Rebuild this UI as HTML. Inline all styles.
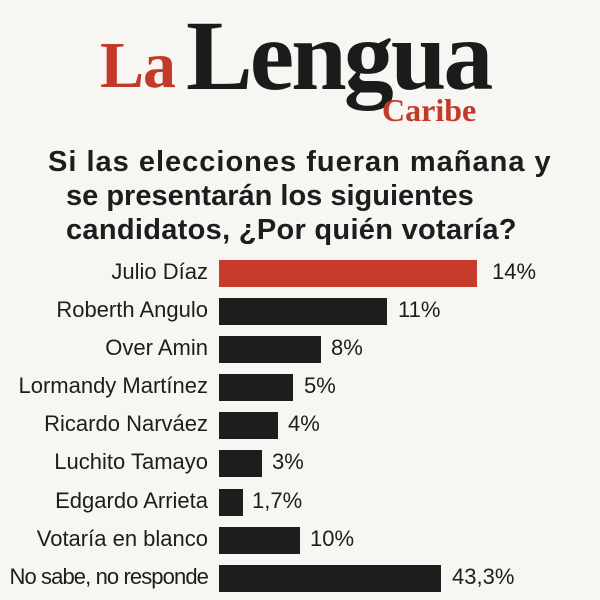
<!DOCTYPE html>
<html><head><meta charset="utf-8"><style>
body{margin:0;width:600px;height:600px;background:#f8f6f2;position:relative;overflow:hidden;font-family:"Liberation Sans",sans-serif;}
.a{position:absolute;white-space:nowrap}
.logo{font-family:"Liberation Serif",serif;font-weight:bold}
.t{font-weight:bold;font-size:29px;color:#1d1d1d;line-height:34px}
.lab{right:392px;font-size:22px;color:#1d1d1d;text-align:right}
.bar{left:219px;height:27px;background:#1e1e1e}
.v{font-size:22px;color:#1d1d1d}
</style></head><body>
<div class="a logo" style="left:100px;top:28px;font-size:66px;color:#c33a2a;letter-spacing:-1px">La</div>
<div class="a logo" style="left:186px;top:-2px;font-size:100px;color:#1b1b1b;letter-spacing:-3px">Lengua</div>
<div class="a logo" style="left:382px;top:92px;font-size:32px;color:#c33a2a">Caribe</div>
<div class="a t" style="top:145px;left:48px;letter-spacing:1px">Si las elecciones fueran mañana y</div>
<div class="a t" style="top:179px;left:66px">se presentarán los siguientes</div>
<div class="a t" style="top:213px;left:66px;letter-spacing:0.3px">candidatos, ¿Por quién votaría?</div>

<div class="a lab" style="top:259px">Julio Díaz</div>
<div class="a bar" style="top:260px;width:258px;background:#c63b2b"></div>
<div class="a v" style="left:492px;top:259px">14%</div>

<div class="a lab" style="top:297px">Roberth Angulo</div>
<div class="a bar" style="top:298px;width:168px"></div>
<div class="a v" style="left:398px;top:297px">11%</div>

<div class="a lab" style="top:335px">Over Amin</div>
<div class="a bar" style="top:336px;width:102px"></div>
<div class="a v" style="left:331px;top:335px">8%</div>

<div class="a lab" style="top:373px">Lormandy Martínez</div>
<div class="a bar" style="top:374px;width:74px"></div>
<div class="a v" style="left:304px;top:373px">5%</div>

<div class="a lab" style="top:411px">Ricardo Narváez</div>
<div class="a bar" style="top:412px;width:59px"></div>
<div class="a v" style="left:288px;top:411px">4%</div>

<div class="a lab" style="top:449px">Luchito Tamayo</div>
<div class="a bar" style="top:450px;width:43px"></div>
<div class="a v" style="left:272px;top:449px">3%</div>

<div class="a lab" style="top:488px">Edgardo Arrieta</div>
<div class="a bar" style="top:489px;width:24px"></div>
<div class="a v" style="left:252px;top:488px">1,7%</div>

<div class="a lab" style="top:526px">Votaría en blanco</div>
<div class="a bar" style="top:527px;width:81px"></div>
<div class="a v" style="left:310px;top:526px">10%</div>

<div class="a lab" style="top:564px;letter-spacing:-0.9px">No sabe, no responde</div>
<div class="a bar" style="top:565px;width:222px"></div>
<div class="a v" style="left:452px;top:564px">43,3%</div>
</body></html>
